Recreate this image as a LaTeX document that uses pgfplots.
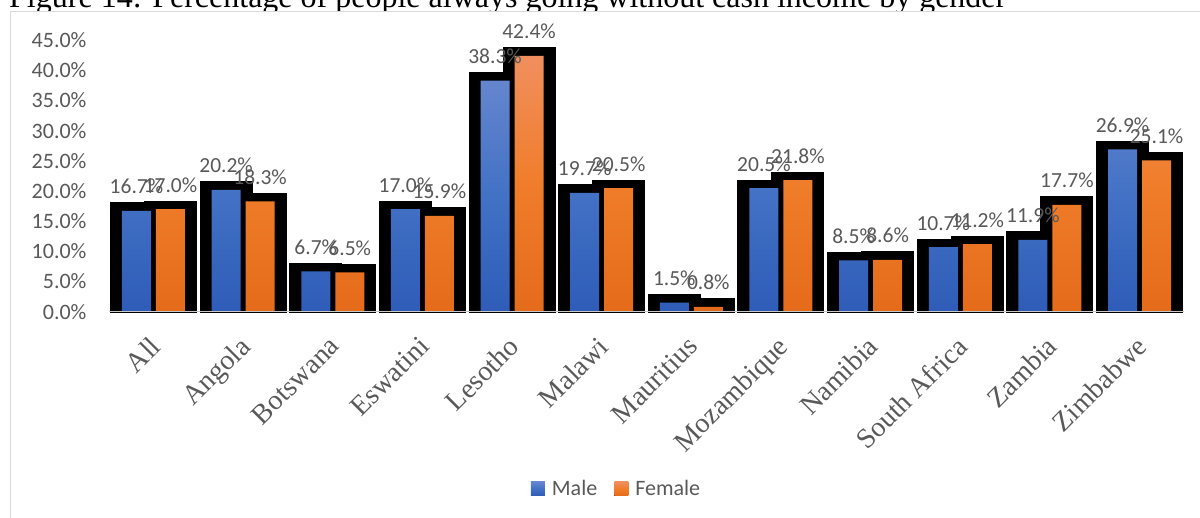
\documentclass[border=0pt]{standalone}
\usepackage{pgfplots}
\pgfplotsset{compat=1.18}
\usepackage{pgfplotstable}
\usepackage{fontspec}
\setmainfont{Liberation Serif}
\newfontfamily\carlito{Carlito}
\newfontfamily\tnr{Liberation Serif}

\definecolor{txtgray}{RGB}{89,89,89}
\definecolor{framegray}{RGB}{217,217,217}
\definecolor{axisgray}{RGB}{200,200,200}
\definecolor{blueTop}{RGB}{101,134,206}
\definecolor{blueMid}{RGB}{66,113,197}
\definecolor{blueBot}{RGB}{46,92,184}
\definecolor{orangeTop}{RGB}{240,143,94}
\definecolor{orangeMid}{RGB}{240,125,42}
\definecolor{orangeBot}{RGB}{228,107,26}

% share of people always going without cash income (%)
\pgfplotstableread{
idx male female
0 16.7 17.0
1 20.2 18.3
2 6.7 6.5
3 17.0 15.9
4 38.3 42.4
5 19.7 20.5
6 1.5 0.8
7 20.5 21.8
8 8.5 8.6
9 10.7 11.2
10 11.9 17.7
11 26.9 25.1
}\gendertable

\begin{document}
\begin{tikzpicture}[x=1bp,y=1bp]
\useasboundingbox (0,0) rectangle (1200,518);
\clip (0,0) rectangle (1200,518);
\node[anchor=base west, inner sep=0pt, font=\tnr\fontsize{32bp}{38bp}\selectfont]
  at (9,510.5) {Figure 14: Percentage of people always going without cash income by gender};
\filldraw[fill=white, draw=framegray, line width=1.5bp] (10.5,-20) rectangle (1230,506.3);
\begin{axis}[
  at={(108.65bp,206.3bp)}, anchor=south west,
  scale only axis, width=1075.7bp, height=271.5bp,
  xmin=-0.5, xmax=11.5, ymin=0, ymax=45,
  clip=false, axis on top,
  axis lines*=left,
  y axis line style={draw=none},
  x axis line style={draw=axisgray, line width=1.5bp},
  major tick length=0pt,
  ytick={0,5,...,45},
  yticklabel={\pgfmathprintnumber[fixed,fixed zerofill,precision=1,assume math mode=true]{\tick}\%},
  yticklabel style={font=\carlito\fontsize{22bp}{26bp}\selectfont, text=txtgray,
    anchor=east, inner sep=0pt, xshift=-22bp},
  xtick={0,...,11},
  xticklabels={All,Angola,Botswana,Eswatini,Lesotho,Malawi,Mauritius,Mozambique,Namibia,South Africa,Zambia,Zimbabwe},
  xticklabel style={font=\tnr\fontsize{28bp}{32bp}\selectfont, text=txtgray,
    inner sep=0pt, xshift=-5bp, yshift=-23bp, rotate=45, anchor=north east},
  legend style={at={(0.4726,-0.652)}, anchor=center, draw=none, fill=none,
    legend columns=2, font=\carlito\fontsize{22bp}{26bp}\selectfont, text=txtgray,
    nodes={inner sep=3bp},
    /tikz/every even column/.append style={column sep=14bp},
    /tikz/every odd column/.append style={column sep=4bp}},
]
% black backing blocks behind each bar
\addplot[ybar, bar width=50bp, bar shift=-17bp, fill=black, draw=black, line width=3bp, forget plot]
  table[x=idx, y expr=\thisrow{male}+1.16] {\gendertable};
\addplot[ybar, bar width=50bp, bar shift=17bp, fill=black, draw=black, line width=3bp, forget plot]
  table[x=idx, y expr=\thisrow{female}+1.16] {\gendertable};
% gradient bars
\addplot[ybar, bar width=29bp, bar shift=-17bp, draw=none,
  top color=blueTop, bottom color=blueBot, middle color=blueMid,
  legend image code/.code={\fill[top color=blueTop, bottom color=blueBot, middle color=blueMid] (0bp,-7bp) rectangle (14bp,7bp);}]
  table[x=idx, y=male] {\gendertable};
\addlegendentry{Male}
\addplot[ybar, bar width=29bp, bar shift=17bp, draw=none,
  top color=orangeTop, bottom color=orangeBot, middle color=orangeMid,
  legend image code/.code={\fill[top color=orangeTop, bottom color=orangeBot, middle color=orangeMid] (0bp,-7bp) rectangle (14bp,7bp);}]
  table[x=idx, y=female] {\gendertable};
\addlegendentry{Female}
% value labels
\addplot[ybar, bar width=29bp, bar shift=-17bp, draw=none, fill=none, forget plot,
  nodes near coords={\pgfmathprintnumber[fixed,fixed zerofill,precision=1,assume math mode=true]{\pgfplotspointmeta}\%},
  every node near coord/.append style={font=\carlito\fontsize{21.5bp}{26bp}\selectfont, text=txtgray, anchor=base, inner sep=0pt, xshift=-17bp, yshift=17bp}]
  table[x=idx, y=male] {\gendertable};
\addplot[ybar, bar width=29bp, bar shift=17bp, draw=none, fill=none, forget plot,
  nodes near coords={\pgfmathprintnumber[fixed,fixed zerofill,precision=1,assume math mode=true]{\pgfplotspointmeta}\%},
  every node near coord/.append style={font=\carlito\fontsize{21.5bp}{26bp}\selectfont, text=txtgray, anchor=base, inner sep=0pt, xshift=17bp, yshift=17bp}]
  table[x=idx, y=female] {\gendertable};
\end{axis}
\end{tikzpicture}
\end{document}
